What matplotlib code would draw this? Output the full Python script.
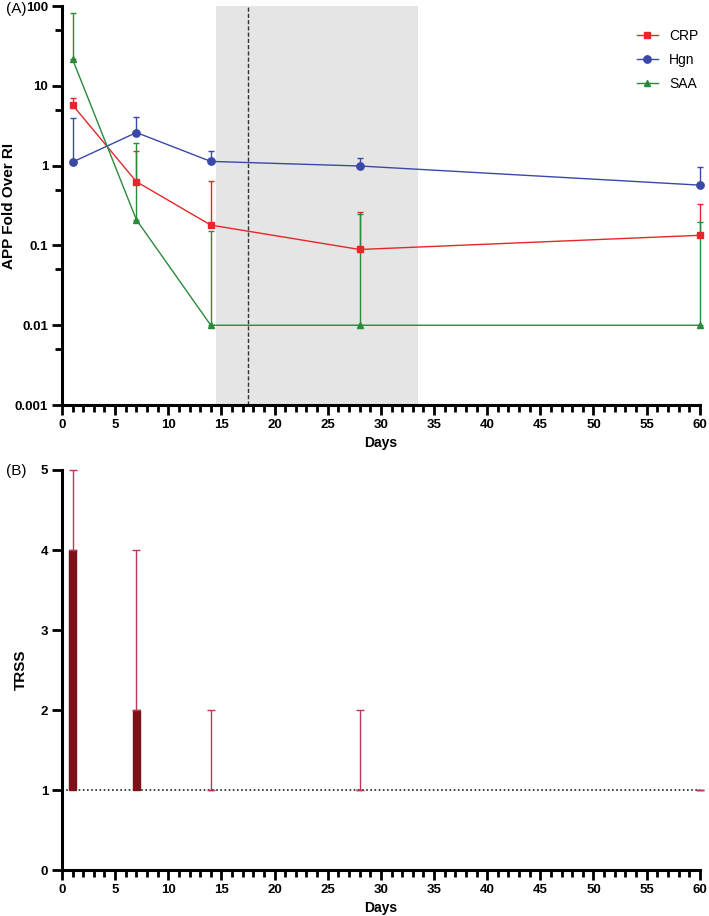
import numpy as np
import matplotlib.pyplot as plt
from matplotlib.ticker import FixedLocator, FuncFormatter, MultipleLocator

plt.rcParams['font.family'] = ['Liberation Sans', 'DejaVu Sans']

days = [1, 7, 14, 28, 60]

# panel A: fold over reference interval (mean, upper error end)
crp = [5.75, 0.63, 0.18, 0.089, 0.134]
crp_hi = [7.0, 1.54, 0.65, 0.26, 0.33]
hgn = [1.11, 2.6, 1.13, 0.99, 0.57]
hgn_hi = [3.9, 4.1, 1.52, 1.26, 0.95]
saa = [21.5, 0.21, 0.01, 0.01, 0.01]
saa_hi = [82.0, 1.9, 0.15, 0.245, 0.195]

shade_start, shade_end = 14.5, 33.5
dash_day = 17.5

# panel B: TRSS
trss = [4, 2, 1, 1, 1]
trss_hi = [5, 4, 2, 2, 1]
trss_base = 1

fig = plt.figure(figsize=(7.09, 9.16), dpi=100)
axA = fig.add_axes([0.0874, 0.5578, 0.8996, 0.4356])
axB = fig.add_axes([0.0874, 0.0502, 0.8996, 0.4367])

def style_axis(ax):
    for s in ['top', 'right']:
        ax.spines[s].set_visible(False)
    for s in ['left', 'bottom']:
        ax.spines[s].set_linewidth(2.2)
    ax.tick_params(which='major', length=7, width=2, pad=3)
    ax.tick_params(which='minor', length=5, width=2)
    ax.set_xlim(0, 60)
    ax.xaxis.set_major_locator(MultipleLocator(5))
    ax.xaxis.set_minor_locator(MultipleLocator(1))
    for lab in ax.get_xticklabels() + ax.get_yticklabels():
        lab.set_fontsize(9.5)
        lab.set_fontweight('bold')
    ax.set_xlabel('Days', fontsize=10, fontweight='bold', labelpad=4)

# ---- panel A
axA.axvspan(shade_start, shade_end, color='#e6e5e5', lw=0, zorder=0)
axA.axvline(dash_day, color='#333333', ls=(0, (3, 1.5)), lw=1, zorder=1)

series = [('CRP', crp, crp_hi, '#e8262a', 's', 5),
          ('Hgn', hgn, hgn_hi, '#3a48a8', 'o', 5.3),
          ('SAA', saa, saa_hi, '#2b8a3a', '^', 4.5)]
for name, vals, hi, col, mk, ms in series:
    vals = np.array(vals)
    up = np.array(hi) - vals
    eb = axA.errorbar(days, vals, yerr=[np.zeros_like(vals), up], color=col,
                      marker=mk, ms=ms, lw=1, elinewidth=1, capsize=2.5,
                      capthick=1, label=name, zorder=3)
    for art in eb.get_children():
        art.set_clip_on(False)

axA.set_yscale('log')
axA.set_ylim(0.001, 100)
axA.yaxis.set_major_locator(FixedLocator([0.001, 0.01, 0.1, 1, 10, 100]))
axA.yaxis.set_minor_locator(FixedLocator([0.005, 0.05, 0.5, 5, 50]))
axA.yaxis.set_major_formatter(FuncFormatter(lambda v, p: '%g' % v))
axA.yaxis.set_minor_formatter(FuncFormatter(lambda v, p: ''))
style_axis(axA)
axA.set_ylabel('APP Fold Over RI', fontsize=11, fontweight='bold')
axA.yaxis.set_label_coords(-0.072, 0.5)

handles, labels = axA.get_legend_handles_labels()
handles = [h[0] for h in handles]
axA.legend(handles, labels, loc='upper right', bbox_to_anchor=(1.017, 0.975),
           frameon=False, fontsize=10, handlelength=1.5, labelspacing=0.75)

# ---- panel B
trss = np.array(trss)
axB.bar(days, trss - trss_base, bottom=trss_base, width=0.6,
        color='#7a1319', edgecolor='#7a1319', lw=1, zorder=2, clip_on=False)
eb = axB.errorbar(days, trss, yerr=[np.zeros(len(days)), np.array(trss_hi) - trss],
                  fmt='none', ecolor='#b8385a', elinewidth=1, capsize=3,
                  capthick=1, zorder=3)
for art in eb.get_children():
    art.set_clip_on(False)
axB.axhline(trss_base, color='#222222', ls=(0, (1, 1.5)), lw=1.2, zorder=1)
axB.set_ylim(0, 5)
axB.yaxis.set_major_locator(MultipleLocator(1))
style_axis(axB)
axB.set_ylabel('TRSS', fontsize=11, fontweight='bold')
axB.yaxis.set_label_coords(-0.053, 0.5)

fig.text(0.0085, 0.99, '(A)', fontsize=11, va='center')
fig.text(0.0085, 0.486, '(B)', fontsize=11, va='center')

fig.savefig('out.png', dpi=100)
